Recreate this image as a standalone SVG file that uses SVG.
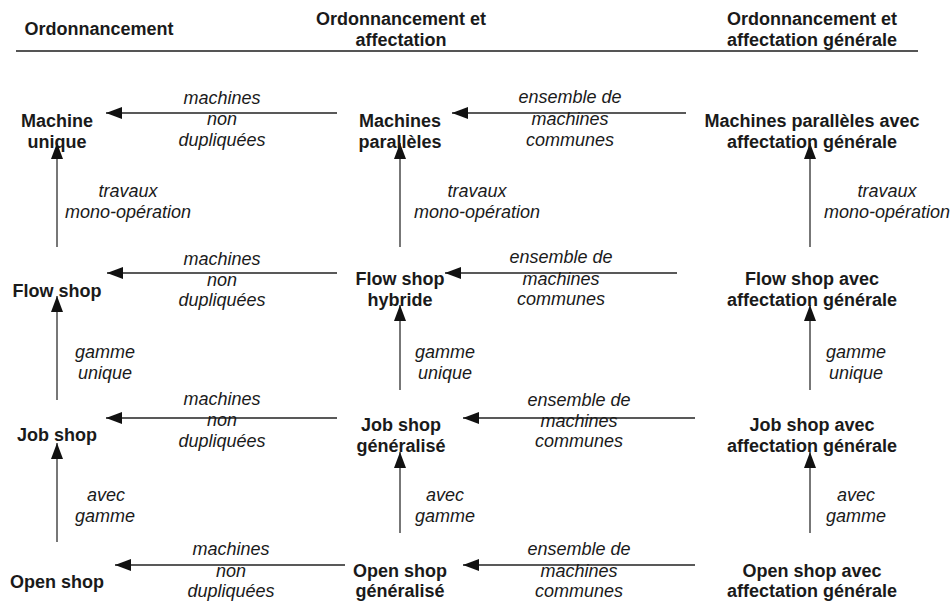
<svg xmlns="http://www.w3.org/2000/svg" width="951" height="601" viewBox="0 0 951 601">
<defs>
<marker id="ah" viewBox="0 0 16 12" refX="16" refY="6" markerWidth="16" markerHeight="12" markerUnits="userSpaceOnUse" orient="auto">
<path d="M0,0 L16,6 L0,12 z" fill="#111"/>
</marker>
<style>
.hd{font-family:"Liberation Sans",Arial,sans-serif;font-weight:bold;font-size:18px;fill:#1a1a1a;text-anchor:middle}
.nd{font-family:"Liberation Sans",Arial,sans-serif;font-weight:bold;font-size:18px;fill:#1a1a1a;text-anchor:middle}
.lb{font-family:"Liberation Sans",Arial,sans-serif;font-style:italic;font-size:18px;fill:#1a1a1a;text-anchor:middle}
.h{stroke:#222;stroke-width:1.6;fill:none;marker-end:url(#ah)}
.v{stroke:#555;stroke-width:1.6;fill:none;marker-end:url(#ah)}
</style>
</defs>
<rect width="951" height="601" fill="#fff"/>
<g id="header">
<text class="hd" x="99" y="35">Ordonnancement</text>
<text class="hd" x="401" y="25">Ordonnancement et</text>
<text class="hd" x="401" y="46">affectation</text>
<text class="hd" x="812" y="25">Ordonnancement et</text>
<text class="hd" x="812" y="46">affectation générale</text>
<line x1="16" y1="51" x2="918" y2="51" stroke="#555" stroke-width="2"/>
</g>
<g id="connectors">
<line class="h" x1="337" y1="113" x2="106" y2="113"/>
<line class="h" x1="686" y1="113" x2="452" y2="113"/>
<line class="h" x1="337" y1="273" x2="107" y2="273"/>
<line class="h" x1="677" y1="273" x2="445" y2="273"/>
<line class="h" x1="337" y1="418" x2="106" y2="418"/>
<line class="h" x1="695" y1="418" x2="463" y2="418"/>
<line class="h" x1="345" y1="565" x2="115" y2="565"/>
<line class="h" x1="695" y1="565" x2="463" y2="565"/>
<line class="v" x1="57" y1="247" x2="57" y2="143"/>
<line class="v" x1="400" y1="247" x2="400" y2="143"/>
<line class="v" x1="810" y1="247" x2="810" y2="143"/>
<line class="v" x1="57" y1="400" x2="57" y2="296"/>
<line class="v" x1="400" y1="390" x2="400" y2="305"/>
<line class="v" x1="810" y1="390" x2="810" y2="305"/>
<line class="v" x1="57" y1="542" x2="57" y2="443"/>
<line class="v" x1="400" y1="533" x2="400" y2="452"/>
<line class="v" x1="810" y1="533" x2="810" y2="452"/>
</g>
<g id="edge-labels">
<text class="lb" x="222" y="104">machines</text>
<text class="lb" x="222" y="125">non</text>
<text class="lb" x="222" y="146">dupliquées</text>
<text class="lb" x="570" y="103">ensemble de</text>
<text class="lb" x="570" y="125">machines</text>
<text class="lb" x="570" y="146">communes</text>
<text class="lb" x="222" y="265">machines</text>
<text class="lb" x="222" y="286">non</text>
<text class="lb" x="222" y="306">dupliquées</text>
<text class="lb" x="561" y="263">ensemble de</text>
<text class="lb" x="561" y="285">machines</text>
<text class="lb" x="561" y="305">communes</text>
<text class="lb" x="222" y="405">machines</text>
<text class="lb" x="222" y="426">non</text>
<text class="lb" x="222" y="447">dupliquées</text>
<text class="lb" x="579" y="406">ensemble de</text>
<text class="lb" x="579" y="427">machines</text>
<text class="lb" x="579" y="447">communes</text>
<text class="lb" x="231" y="555">machines</text>
<text class="lb" x="231" y="577">non</text>
<text class="lb" x="231" y="597">dupliquées</text>
<text class="lb" x="579" y="555">ensemble de</text>
<text class="lb" x="579" y="577">machines</text>
<text class="lb" x="579" y="597">communes</text>
<text class="lb" x="128" y="197">travaux</text>
<text class="lb" x="128" y="218">mono-opération</text>
<text class="lb" x="477" y="197">travaux</text>
<text class="lb" x="477" y="218">mono-opération</text>
<text class="lb" x="887" y="197">travaux</text>
<text class="lb" x="887" y="218">mono-opération</text>
<text class="lb" x="105" y="358">gamme</text>
<text class="lb" x="105" y="379">unique</text>
<text class="lb" x="445" y="358">gamme</text>
<text class="lb" x="445" y="379">unique</text>
<text class="lb" x="856" y="358">gamme</text>
<text class="lb" x="856" y="379">unique</text>
<text class="lb" x="106" y="501">avec</text>
<text class="lb" x="105" y="522">gamme</text>
<text class="lb" x="445" y="501">avec</text>
<text class="lb" x="445" y="522">gamme</text>
<text class="lb" x="856" y="501">avec</text>
<text class="lb" x="856" y="522">gamme</text>
</g>
<g id="n-machine-unique"><text class="nd" x="57" y="127">Machine</text><text class="nd" x="57" y="148">unique</text></g>
<g id="n-machines-paralleles"><text class="nd" x="400" y="127">Machines</text><text class="nd" x="400" y="148">parallèles</text></g>
<g id="n-machines-paralleles-ag"><text class="nd" x="812" y="127">Machines parallèles avec</text><text class="nd" x="812" y="148">affectation générale</text></g>
<g id="n-flow-shop"><text class="nd" x="57" y="297">Flow shop</text></g>
<g id="n-flow-shop-hybride"><text class="nd" x="400" y="285">Flow shop</text><text class="nd" x="400" y="306">hybride</text></g>
<g id="n-flow-shop-ag"><text class="nd" x="812" y="285">Flow shop avec</text><text class="nd" x="812" y="306">affectation générale</text></g>
<g id="n-job-shop"><text class="nd" x="57" y="441">Job shop</text></g>
<g id="n-job-shop-gen"><text class="nd" x="401" y="431">Job shop</text><text class="nd" x="401" y="452">généralisé</text></g>
<g id="n-job-shop-ag"><text class="nd" x="812" y="431">Job shop avec</text><text class="nd" x="812" y="452">affectation générale</text></g>
<g id="n-open-shop"><text class="nd" x="57" y="588">Open shop</text></g>
<g id="n-open-shop-gen"><text class="nd" x="400" y="577">Open shop</text><text class="nd" x="400" y="597">généralisé</text></g>
<g id="n-open-shop-ag"><text class="nd" x="812" y="577">Open shop avec</text><text class="nd" x="812" y="597">affectation générale</text></g>
</svg>
